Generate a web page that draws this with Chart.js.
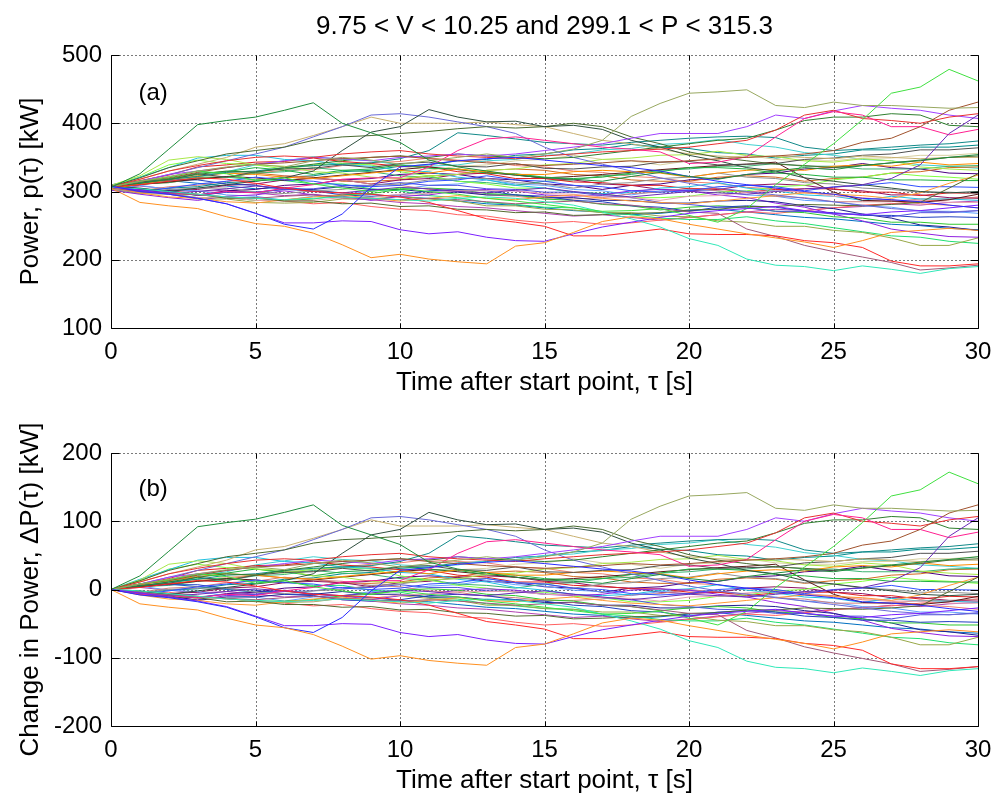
<!DOCTYPE html>
<html><head><meta charset="utf-8">
<script src="https://cdn.jsdelivr.net/npm/chart.js@4.4.1/dist/chart.umd.min.js"></script>
<style>
html,body{margin:0;padding:0;background:#fff;width:995px;height:799px;overflow:hidden;}
canvas{position:absolute;left:0;}
#c1{top:0;width:995px;height:398px;}
#c2{top:398px;width:995px;height:401px;}
</style></head><body>
<canvas id="c1" width="995" height="398"></canvas>
<canvas id="c2" width="995" height="401"></canvas>
<script>
// ---- data ----
const tau = [0,1,2,3,4,5,6,7,8,9,10,11,12,13,14,15,16,17,18,19,20,21,22,23,24,25,26,27,28,29,30];
const xTickValues = [0,5,10,15,20,25,30];
const yTicksPower = [100,200,300,400,500];
const yTicksChange = [-200,-100,0,100,200];
const titleText = '9.75 < V < 10.25 and 299.1 < P < 315.3';

// power traces p(tau) [kW], one per start point
const pA = [306,326,362,398,404,409,419,430,400,386,372,346,336,330,324,320,318,315,322,328,322,318,325,330,335,332,338,342,346,350,354];
const pB = [305,284,279,275,263,253,249,239,222,203,208,201,197,194,220,225,240,256,263,260,252,245,238,232,226,218,228,240,243,246,243];
const pC = [308,300,296,290,282,268,252,245,267,306,336,340,345,348,350,346,342,338,335,330,322,315,310,305,300,296,290,288,285,280,276];
const pD = [307,302,296,290,282,268,254,254,257,256,244,238,241,233,228,227,238,248,255,262,268,272,275,278,272,268,266,270,272,276,280];
const pE = [307,315,322,330,336,340,336,345,350,346,340,345,350,355,350,355,362,375,410,429,444,446,449,426,423,431,426,426,424,422,423];
const pF = [307,315,321,330,326,316,320,311,305,300,305,300,296,290,286,281,276,271,272,275,265,255,275,310,340,370,405,444,453,479,462];
const pG = [306,304,300,296,292,290,288,290,292,290,288,286,290,292,290,285,280,270,260,248,231,221,201,192,190,184,191,186,180,187,190];
const pH = [307,310,315,320,318,312,305,300,298,296,292,284,272,260,255,249,235,235,240,245,238,237,237,235,228,225,218,198,191,191,194];
const pI = [305,300,297,295,292,290,293,295,292,290,288,290,288,285,282,284,286,282,280,275,270,268,245,234,221,212,204,196,185,188,192];
const pJ = [307,302,298,300,304,308,305,300,298,302,306,304,300,298,302,305,300,296,292,296,300,298,296,300,304,306,310,319,339,385,412];
const pK = [307,315,320,328,335,340,342,345,348,350,352,348,345,342,340,338,340,342,345,343,345,348,350,352,355,360,372,378,395,419,431];
const pL = [307,300,298,295,300,298,305,310,318,320,320,336,360,377,380,375,370,365,362,358,341,343,351,380,407,417,412,395,395,383,391];
const pM = [307,318,330,338,345,350,352,350,355,358,360,355,352,350,348,352,355,358,360,362,365,370,375,390,412,419,407,404,400,409,414];
const pN = [307,315,325,330,335,340,345,350,348,345,350,352,355,352,355,360,365,370,378,385,385,385,395,412,407,418,426,422,419,412,407];
const pO = [307,312,318,325,330,328,335,340,345,350,352,350,355,352,350,348,350,355,360,365,370,375,378,390,404,409,409,414,412,397,395];
const pP = [307,305,300,305,310,315,320,330,360,387,395,420,409,402,403,395,397,391,375,365,353,345,335,330,320,315,310,305,300,298,300];
const pQ = [307,320,335,345,355,360,365,375,380,382,385,388,392,395,393,395,400,395,380,370,358,350,345,340,338,335,338,342,345,350,352];
const pR = [307,315,325,335,345,355,365,380,395,412,414,409,402,395,385,365,350,340,330,320,312,305,300,295,290,285,280,275,272,270,272];
const pS = [307,318,330,340,350,365,370,382,395,409,400,400,400,402,398,395,385,375,370,362,355,352,350,352,350,348,352,350,348,350,350];
const pT = [307,312,318,322,328,330,335,338,340,342,348,360,386,382,377,372,370,368,372,375,378,380,381,379,365,360,362,365,368,370,374];
const pU1 = [308,314,317,326,321,329,333,334,339,335,341,343,337,336,341,334,333,336,337,343,344,339,340,341,347,349,353,355,361,361,364];
const pU2 = [304,311,317,323,327,325,321,319,323,327,331,327,333,329,325,325,329,331,329,327,321,327,331,333,331,337,339,337,343,339,341];
const pU3 = [309,323,346,351,347,339,337,329,327,321,319,323,325,331,333,339,341,347,349,353,354,359,353,351,345,343,348,345,336,333,331];
const pU4 = [308,301,297,296,290,291,286,286,282,283,278,279,274,273,269,270,265,266,268,269,273,274,278,278,281,280,279,281,284,305,326];
const pU5 = [306,298,292,290,285,283,288,292,295,290,286,290,294,290,288,292,295,290,286,284,282,286,290,294,298,296,294,290,298,312,324];
const pU6 = [305,313,319,327,329,335,331,325,331,333,339,334,333,327,326,321,319,321,327,329,335,335,333,327,325,321,321,317,317,316,316];
const pU7 = [307,300,305,311,315,321,317,315,309,307,309,315,317,323,317,315,309,307,301,299,301,307,309,307,301,307,309,313,307,307,306];
const pU8 = [306,310,314,318,322,320,316,320,324,328,332,336,332,328,324,320,322,325,328,332,335,338,340,343,320,299,287,286,284,288,296];
const pU9 = [303,298,303,305,305,299,297,301,303,309,311,317,319,319,313,311,305,311,313,319,321,327,321,319,313,311,305,303,299,299,297];
const pU10 = [304,299,296,291,291,287,286,287,291,291,296,297,301,301,301,297,296,292,291,287,293,294,299,301,299,293,291,287,287,284,284];
const pU11 = [306,301,299,295,299,299,303,304,309,309,313,309,309,304,303,299,299,294,291,284,281,277,276,271,271,267,267,263,269,269,272];
const pU12 = [310,315,317,317,311,309,303,301,295,293,295,301,303,301,295,293,287,285,279,277,271,277,279,277,271,269,265,265,262,263,262];
const pU13 = [304,299,297,291,291,287,287,289,295,297,303,305,303,297,295,289,287,281,279,273,277,279,277,271,269,263,261,255,255,252,252];
const pU14 = [310,304,301,294,299,299,303,303,307,303,303,299,299,295,295,291,291,287,287,283,283,286,287,285,279,275,267,261,251,248,243];
const pU15 = [302,296,291,287,293,295,301,295,293,287,293,295,301,303,301,295,293,295,301,303,301,295,291,283,277,267,257,245,239,234,233];
const pU16 = [302,297,296,289,289,284,283,284,289,289,293,289,286,279,279,274,273,269,269,264,263,257,255,249,249,243,240,232,221,221,232];
const pU17 = [305,311,314,321,321,317,316,311,311,304,301,294,291,284,281,277,276,269,266,261,259,259,263,257,253,247,241,235,233,227,224];
const pU18 = [306,321,335,349,353,353,347,345,339,337,331,329,321,317,309,305,299,297,299,305,307,313,305,301,295,293,287,293,289,289,287];
const pU19 = [309,321,339,346,341,339,333,339,341,339,329,323,315,311,305,305,299,297,291,291,293,299,301,307,309,317,321,327,323,321,318];
const pU20 = [308,316,324,336,339,343,344,349,344,341,337,336,329,326,319,319,314,313,309,309,304,304,299,303,304,304,299,299,294,298,297];
const pU21 = [305,301,307,309,315,317,323,319,317,311,309,303,301,295,293,289,289,291,297,299,305,301,299,293,291,285,285,285,289,289,291];
const pU22 = [307,311,313,319,321,327,329,335,331,329,323,321,315,313,309,315,317,323,325,331,333,337,337,341,337,337,333,333,333,337,338];
const pU23 = [304,309,303,301,295,293,287,293,295,301,303,309,311,317,311,309,303,301,295,301,303,301,295,293,287,285,279,277,271,271,268];
const pU24 = [307,303,301,303,309,311,317,319,317,311,317,319,325,327,325,319,317,311,309,303,301,303,309,311,309,303,301,295,295,291,290];
const pU25 = [306,311,313,319,321,327,323,321,315,315,317,323,325,331,333,331,325,323,317,315,315,321,323,321,315,319,321,327,329,335,336];
const pU26 = [308,313,319,321,327,329,335,337,343,339,337,331,337,339,345,347,353,347,345,339,345,347,353,347,345,345,349,349,353,353,356];
const pU27 = [303,311,315,323,329,339,345,351,347,345,339,337,339,345,347,353,355,361,363,369,371,376,369,365,357,353,347,345,339,337,334];
const pU28 = [307,303,301,295,301,303,309,311,317,319,325,327,325,319,317,311,309,303,309,311,317,319,325,327,333,335,341,335,333,327,326];
const pU29 = [305,311,314,320,322,327,331,332,338,342,344,349,346,344,338,336,330,328,322,320,314,312,306,304,298,296,290,288,282,280,276];
const pU30 = [306,301,305,307,313,315,321,323,329,331,337,339,345,347,353,355,361,363,369,365,363,357,355,349,353,355,361,361,365,365,368];
const pU31 = [306,300,302,296,292,290,286,282,284,278,274,272,266,264,258,254,256,252,254,258,262,266,270,268,272,276,280,282,286,288,292];
const pU32 = [305,308,304,300,302,298,294,296,290,288,284,282,278,276,272,268,264,266,262,258,262,266,270,274,272,276,278,282,280,284,286];
const pU33 = [308,312,316,312,308,304,306,302,298,296,292,290,286,282,280,276,272,270,266,268,272,274,270,266,262,260,256,252,250,246,244];

const traces = [pA,pB,pC,pD,pE,pF,pG,pH,pI,pJ,pK,pL,pM,pN,pO,pP,pQ,pR,pS,pT,
  pU1,pU2,pU3,pU4,pU5,pU6,pU7,pU8,pU9,pU10,pU11,pU12,pU13,pU14,pU15,pU16,pU17,pU18,pU19,pU20,
  pU21,pU22,pU23,pU24,pU25,pU26,pU27,pU28,pU29,pU30,pU31,pU32,pU33];
const traceColors = ['#1e8c3c','#ff9020','#2a2aff','#7b1fff','#98a860','#40e040','#30e8b8','#ff2828','#a05878','#6a2ab8',
  '#a0522d','#ff2090','#e83030','#a040ff','#2f7f2f','#2f4f3f','#4a6a30','#6a6ad8','#c8b070','#108888',
  '#505050','#ff8c00','#a8e848','#556b2f','#ff9933','#20b040','#3050ff','#5a1a1a','#909090','#e8a0b0',
  '#5050e0','#2040c0','#30c830','#202090','#9020e0','#98a848','#20e070','#20c0e0','#80ff40','#e02020',
  '#d08080','#3cb371','#60a0ff','#901060','#d2691e','#d8d0a0','#40d0d0','#4b0082','#f08070','#008b8b',
  '#ff6060','#b040b0','#0070c0'];

// ---- drawing ----
const FONT = 'Arial, "Liberation Sans", Helvetica, sans-serif';

const framePlugin = {
  id: 'frame',
  beforeDatasetsDraw(chart, args, o) {
    const {ctx, chartArea: a, scales: {x, y}} = chart;
    ctx.save();
    ctx.strokeStyle = '#7a7a7a'; ctx.lineWidth = 1; ctx.setLineDash([2, 2]);
    ctx.beginPath();
    o.xTicks.forEach(v => { if (v > x.min && v < x.max) { const p = Math.round(x.getPixelForValue(v)) + 0.5; ctx.moveTo(p, a.top); ctx.lineTo(p, a.bottom); } });
    o.yTicks.forEach(v => { if (v > y.min) { const p = Math.round(y.getPixelForValue(v)) + 0.5; ctx.moveTo(a.left, p); ctx.lineTo(a.right, p); } });
    ctx.stroke();
    ctx.restore();
  },
  afterDatasetsDraw(chart, args, o) {
    const {ctx, chartArea: a, scales: {x, y}} = chart;
    const L = Math.round(a.left) + 0.5, R = Math.round(a.right) + 0.5, B = Math.round(a.bottom) + 0.5, T = Math.round(a.top) + 0.5;
    ctx.save();
    ctx.strokeStyle = '#000'; ctx.lineWidth = 1; ctx.setLineDash([]);
    ctx.beginPath();
    ctx.moveTo(L, T); ctx.lineTo(L, B); ctx.lineTo(R, B); ctx.lineTo(R, T);
    o.yTicks.forEach(v => { const p = Math.round(y.getPixelForValue(v)) + 0.5; ctx.moveTo(L, p); ctx.lineTo(L + 8, p); ctx.moveTo(R, p); ctx.lineTo(R - 8, p); });
    o.xTicks.forEach(v => { const p = Math.round(x.getPixelForValue(v)) + 0.5; ctx.moveTo(p, B); ctx.lineTo(p, B - 5); ctx.moveTo(p, T); ctx.lineTo(p, T + 5); });
    ctx.stroke();
    ctx.fillStyle = '#000'; ctx.textBaseline = 'middle';
    ctx.font = '24px ' + FONT; ctx.textAlign = 'left';
    ctx.fillText(o.label, x.getPixelForValue(o.labelX), y.getPixelForValue(o.labelY));
    if (o.title) {
      ctx.font = '26px ' + FONT; ctx.textAlign = 'center';
      ctx.fillText(o.title, (a.left + a.right) / 2, 27);
    }
    ctx.restore();
  }
};

function makeChart(id, datasetsData, yTicks, yTitle, label, labelY, title, xHeight, xTitlePadBottom) {
  const datasets = datasetsData.map((vals, k) => ({
    data: tau.map((t, i) => ({x: t, y: vals[i]})),
    borderColor: traceColors[k], borderWidth: 1, pointRadius: 0, fill: false, tension: 0
  }));
  return new Chart(document.getElementById(id), {
    type: 'line',
    data: {datasets},
    plugins: [framePlugin],
    options: {
      responsive: false, animation: false, devicePixelRatio: 1,
      layout: {padding: {left: 0, right: 17, top: 55, bottom: 0}},
      plugins: {
        legend: {display: false}, tooltip: {enabled: false}, title: {display: false},
        frame: {xTicks: xTickValues, yTicks: yTicks, label: label, labelX: 0.95, labelY: labelY, title: title}
      },
      scales: {
        x: {
          type: 'linear', min: 0, max: 30,
          afterBuildTicks: s => { s.ticks = xTickValues.map(v => ({value: v})); },
          afterFit: s => { s.height = xHeight; s.paddingLeft = 0; s.paddingRight = 0; },
          ticks: {color: '#000', font: {family: FONT, size: 24}, padding: 10, maxRotation: 0, autoSkip: false},
          grid: {display: false, drawTicks: false},
          border: {display: false},
          title: {display: true, text: 'Time after start point, \u03c4 [s]', color: '#000',
            font: {family: FONT, size: 26, lineHeight: 1}, padding: {top: 0, bottom: xTitlePadBottom}}
        },
        y: {
          type: 'linear', min: yTicks[0], max: yTicks[yTicks.length - 1],
          afterBuildTicks: s => { s.ticks = yTicks.map(v => ({value: v})); },
          afterFit: s => { s.width = 111; s.paddingTop = 0; s.paddingBottom = 0; },
          ticks: {color: '#000', font: {family: FONT, size: 24}, padding: 9, autoSkip: false},
          grid: {display: false, drawTicks: false},
          border: {display: false},
          title: {display: true, text: yTitle, color: '#000',
            font: {family: FONT, size: 26, lineHeight: 1}, padding: {top: 18, bottom: 0}}
        }
      }
    }
  });
}

const changeTraces = traces.map(p => p.map(v => v - p[0]));

makeChart('c1', traces, yTicksPower, 'Power, p(\u03c4) [kW]', '(a)', 444, titleText, 70, 2);
makeChart('c2', changeTraces, yTicksChange, 'Change in Power, \u0394P(\u03c4) [kW]', '(b)', 146, null, 73, 5);
</script>
</body></html>
